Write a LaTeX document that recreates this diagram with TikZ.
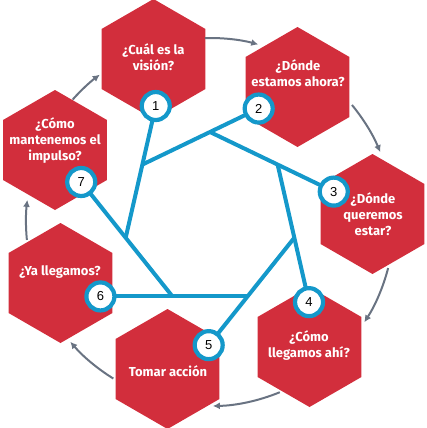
\documentclass[tikz,border=0pt]{standalone}
\usepackage{fontspec}
\setmainfont{Fira Sans}
\newfontfamily\digitfont{Liberation Sans}
\usetikzlibrary{shapes.geometric,arrows.meta,calc}
\definecolor{hexred}{RGB}{210,46,60}
\definecolor{lineblue}{RGB}{20,152,202}
\definecolor{arrowgray}{RGB}{105,115,130}
\begin{document}
\begin{tikzpicture}[x=1pt,y=-1pt,
  hexbox/.style={regular polygon, regular polygon sides=6, shape border rotate=30,
    minimum size=120pt, inner sep=0pt, fill=hexred},
  hextext/.style={text=white, font=\bfseries\fontsize{13}{16}\selectfont, align=center, inner sep=0pt},
  spoke/.style={lineblue, line width=4pt},
  badge/.style={circle, draw=lineblue, line width=4.2pt, fill=white, minimum size=28pt,
    inner sep=0pt, font=\digitfont\fontsize{13}{13}\selectfont},
  cyc/.style={arrowgray, line width=2pt, -{Latex[length=7pt,width=7pt]}}]
\useasboundingbox (0,0) rectangle (427,428);
% hexagons
\node[hexbox] (h1) at (153.5,59) {};
\node[hexbox] (h2) at (297.5,87) {};
\node[hexbox] (h3) at (372.5,214) {};
\node[hexbox] (h4) at (309.5,347) {};
\node[hexbox] (h5) at (167.5,369) {};
\node[hexbox] (h6) at (60.5,283) {};
\node[hexbox] (h7) at (55,150) {};
% texts
\node[hextext] (t1) at (153.5,57) {¿Cuál es la\\visión?};
\node[hextext] (t2) at (298,73) {¿Dónde\\estamos ahora?};
\node[hextext] (t3) at (373,214) {¿Dónde\\queremos\\estar?};
\node[hextext] (t4) at (309,346) {¿Cómo\\llegamos ahí?};
\node[hextext] (t5) at (168,371) {Tomar acción};
\node[hextext] (t6) at (60,272) {¿Ya llegamos?};
\node[hextext] (t7) at (55,141) {¿Cómo\\mantenemos el\\impulso?};
% cycle arrows
\coordinate (O) at (210,222);
\coordinate (a1) at ($(O)+(-91.6:184)$);
\coordinate (a2) at ($(O)+(-39.5:184)$);
\coordinate (a3) at ($(O)+(14.5:184)$);
\coordinate (a4) at ($(O)+(67.7:184)$);
\coordinate (a5) at ($(O)+(121.7:184)$);
\coordinate (a6) at ($(O)+(174.4:184)$);
\coordinate (a7) at ($(O)+(221.7:184)$);
\draw[cyc] (a1) arc[start angle=-91.6, end angle=-74.8, radius=184];
\draw[cyc] (a2) arc[start angle=-39.5, end angle=-22.3, radius=184];
\draw[cyc] (a3) arc[start angle=14.5, end angle=33.0, radius=184];
\draw[cyc] (a4) arc[start angle=67.7, end angle=89.1, radius=184];
\draw[cyc] (a5) arc[start angle=121.7, end angle=139.4, radius=184];
\draw[cyc] (a6) arc[start angle=174.4, end angle=186.9, radius=184];
\draw[cyc] (a7) arc[start angle=221.7, end angle=233.2, radius=184];
% heptagon vertices
\coordinate (hc) at (210,218.5);
\foreach \i in {0,...,6} {
  \coordinate (v\i) at ($(hc)+({-90+\i*360/7}:86.5)$);
}
% badge positions
\coordinate (p1) at ($(v5)!1.80!(v6)$);
\coordinate (p2) at ($(v6)!1.72!(v0)$);
\coordinate (p3) at ($(v0)!1.83!(v1)$);
\coordinate (p4) at ($(v1)!1.88!(v2)$);
\coordinate (p5) at ($(v2)!1.83!(v3)$);
\coordinate (p6) at ($(v3)!1.96!(v4)$);
\coordinate (p7) at ($(v4)!1.95!(v5)$);
% spokes
\draw[spoke] (p1) -- (v5);
\draw[spoke] (p2) -- (v6);
\draw[spoke] (p3) -- (v0);
\draw[spoke] (p4) -- (v1);
\draw[spoke] (p5) -- (v2);
\draw[spoke] (p6) -- (v3);
\draw[spoke] (p7) -- (v4);
% badges
\node[badge] (b1) at (p1) {1};
\node[badge] (b2) at (p2) {2};
\node[badge] (b3) at (p3) {3};
\node[badge] (b4) at (p4) {4};
\node[badge] (b5) at (p5) {5};
\node[badge] (b6) at (p6) {6};
\node[badge] (b7) at (p7) {7};
\end{tikzpicture}
\end{document}
